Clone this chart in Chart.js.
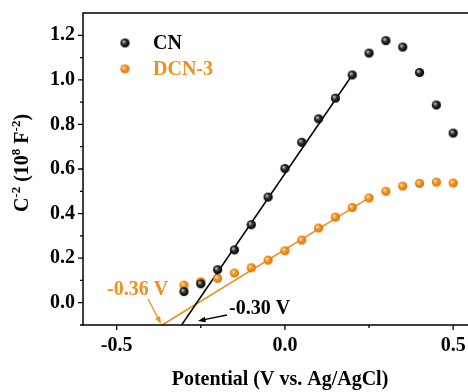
<!DOCTYPE html>
<html>
<head>
<meta charset="utf-8">
<script src="https://cdn.jsdelivr.net/npm/chart.js@4.4.1/dist/chart.umd.min.js"></script>
<style>
  html, body { margin: 0; padding: 0; overflow: hidden; background: #fff; }
  #wrap { width: 470px; height: 392px; }
</style>
</head>
<body>
<div id="wrap"><canvas id="c" width="470" height="392"></canvas></div>
<script>
// data
const potential = [-0.30, -0.25, -0.20, -0.15, -0.10, -0.05, 0.00, 0.05, 0.10, 0.15, 0.20, 0.25, 0.30, 0.35, 0.40, 0.45, 0.50];
const cnValues  = [0.050, 0.085, 0.148, 0.237, 0.350, 0.474, 0.602, 0.720, 0.825, 0.918, 1.022, 1.120, 1.176, 1.147, 1.033, 0.887, 0.761];
const dcnValues = [0.079, 0.094, 0.109, 0.133, 0.157, 0.191, 0.233, 0.281, 0.335, 0.384, 0.427, 0.470, 0.500, 0.523, 0.535, 0.541, 0.537];

// linear fits (endpoints)
const cnFitX  = [-0.307, 0.20];
const cnFitY  = [-0.10, 1.022];
const dcnFitX = [-0.365, 0.25];
const dcnFitY = [-0.10, 0.470];

const seriesNames = ['CN', 'DCN-3'];
const xTicks = [-0.5, 0.0, 0.5];
const xMinor = [-0.25, 0.25];
const yTicks = [0.0, 0.2, 0.4, 0.6, 0.8, 1.0, 1.2];
const yMinor = [-0.1, 0.1, 0.3, 0.5, 0.7, 0.9, 1.1];

const ORANGE = '#f28e1c';
const FONT = "'Liberation Serif', 'Times New Roman', serif";

// shaded ball markers
function makeBall(dark, mid, light) {
  const r = 4.6, s = 11;
  const cv = document.createElement('canvas');
  cv.width = s; cv.height = s;
  const g = cv.getContext('2d');
  const grad = g.createRadialGradient(s / 2 - 1.5, s / 2 - 1.5, 0.5, s / 2, s / 2, r);
  grad.addColorStop(0, light);
  grad.addColorStop(0.45, mid);
  grad.addColorStop(1, dark);
  g.fillStyle = grad;
  g.beginPath();
  g.arc(s / 2, s / 2, r, 0, Math.PI * 2);
  g.fill();
  return cv;
}
const blackBall = makeBall('#000000', '#2a2a2a', '#b8b8b8');
const orangeBall = makeBall('#d87400', '#f39322', '#ffd9a0');

const toXY = (xs, ys) => xs.map((x, i) => ({ x, y: ys[i] }));

function drawArrow(ctx, x1, y1, x2, y2, color) {
  // arrow from (x1,y1) to head at (x2,y2)
  const ang = Math.atan2(y2 - y1, x2 - x1);
  ctx.save();
  ctx.strokeStyle = color;
  ctx.fillStyle = color;
  ctx.lineWidth = 1.3;
  ctx.beginPath();
  ctx.moveTo(x1, y1);
  ctx.lineTo(x2 - 5 * Math.cos(ang), y2 - 5 * Math.sin(ang));
  ctx.stroke();
  ctx.beginPath();
  ctx.moveTo(x2, y2);
  ctx.lineTo(x2 - 8 * Math.cos(ang - 0.35), y2 - 8 * Math.sin(ang - 0.35));
  ctx.lineTo(x2 - 8 * Math.cos(ang + 0.35), y2 - 8 * Math.sin(ang + 0.35));
  ctx.closePath();
  ctx.fill();
  ctx.restore();
}

// draw a run of [text, isSup] parts starting at x, baseline y
function drawRich(ctx, parts, x, y, size) {
  let cx = x;
  parts.forEach(([t, sup]) => {
    ctx.font = `bold ${sup ? Math.round(size * 0.65) : size}px ${FONT}`;
    ctx.fillText(t, cx, sup ? y - size * 0.42 : y);
    cx += ctx.measureText(t).width;
  });
  return cx - x;
}
function richWidth(ctx, parts, size) {
  let w = 0;
  parts.forEach(([t, sup]) => {
    ctx.font = `bold ${sup ? Math.round(size * 0.65) : size}px ${FONT}`;
    w += ctx.measureText(t).width;
  });
  return w;
}

const framePlugin = {
  id: 'frame',
  afterDraw(chart) {
    const { ctx, chartArea: a, scales: { x, y } } = chart;
    ctx.save();
    ctx.strokeStyle = '#000';
    ctx.lineWidth = 1.5;
    // frame
    ctx.beginPath();
    ctx.moveTo(a.left, a.bottom);
    ctx.lineTo(a.left, a.top);
    ctx.lineTo(a.right, a.top);
    ctx.moveTo(a.left, a.bottom);
    ctx.lineTo(a.right, a.bottom);
    ctx.stroke();

    // outward ticks
    ctx.lineWidth = 1.3;
    ctx.beginPath();
    yTicks.forEach(v => { const p = y.getPixelForValue(v); ctx.moveTo(a.left, p); ctx.lineTo(a.left - 5, p); });
    yMinor.forEach(v => { const p = y.getPixelForValue(v); ctx.moveTo(a.left, p); ctx.lineTo(a.left - 3, p); });
    xTicks.forEach(v => { const p = x.getPixelForValue(v); ctx.moveTo(p, a.bottom); ctx.lineTo(p, a.bottom + 5); });
    xMinor.forEach(v => { const p = x.getPixelForValue(v); ctx.moveTo(p, a.bottom); ctx.lineTo(p, a.bottom + 3); });
    ctx.stroke();

    // legend
    const lx = 125, ly1 = 43, ly2 = 69;
    ctx.drawImage(blackBall, lx - 5.5, ly1 - 5.5);
    ctx.drawImage(orangeBall, lx - 5.5, ly2 - 5.5);
    ctx.font = `bold 20px ${FONT}`;
    ctx.textBaseline = 'middle';
    ctx.fillStyle = '#000';
    ctx.fillText(seriesNames[0], 153, ly1 + 1);
    ctx.fillStyle = ORANGE;
    ctx.fillText(seriesNames[1], 153, ly2 + 1);

    // intercept labels + arrows
    ctx.fillStyle = ORANGE;
    ctx.fillText('-0.36 V', 107, 290);
    drawArrow(ctx, 148, 299, x.getPixelForValue(dcnFitX[0]) - 1, a.bottom - 1, ORANGE);
    ctx.fillStyle = '#000';
    ctx.fillText('-0.30 V', 229, 309);
    drawArrow(ctx, 227, 315, 198, 321, '#000');

    // axis titles
    ctx.textBaseline = 'alphabetic';
    ctx.fillStyle = '#000';
    const xt = [['Potential (V vs. Ag/AgCl)', false]];
    const xw = richWidth(ctx, xt, 20);
    drawRich(ctx, xt, 280 - xw / 2, 385, 20);

    const yt = [['C', false], ['-2', true], [' (10', false], ['8', true], [' F', false], ['-2', true], [')', false]];
    const yw = richWidth(ctx, yt, 20);
    ctx.translate(28, 163);
    ctx.rotate(-Math.PI / 2);
    drawRich(ctx, yt, -yw / 2, 0, 20);
    ctx.restore();
  }
};

new Chart(document.getElementById('c'), {
  type: 'scatter',
  data: {
    datasets: [
      {
        label: seriesNames[0],
        data: toXY(potential, cnValues),
        pointStyle: blackBall,
        order: 1
      },
      {
        label: seriesNames[1],
        data: toXY(potential, dcnValues),
        pointStyle: orangeBall,
        order: 1
      },
      {
        label: 'CN fit',
        data: toXY(cnFitX, cnFitY),
        showLine: true,
        borderColor: '#000',
        borderWidth: 1.5,
        pointRadius: 0,
        order: 2
      },
      {
        label: 'DCN-3 fit',
        data: toXY(dcnFitX, dcnFitY),
        showLine: true,
        borderColor: ORANGE,
        borderWidth: 1.5,
        pointRadius: 0,
        order: 2
      }
    ]
  },
  options: {
    responsive: false,
    animation: false,
    devicePixelRatio: 1,
    clip: false,
    layout: { autoPadding: false, padding: { top: 13, left: 0, right: 0, bottom: 0 } },
    plugins: { legend: { display: false }, tooltip: { enabled: false } },
    scales: {
      x: {
        type: 'linear',
        min: -0.6,
        max: 0.55,
        grid: { display: false, drawTicks: false },
        border: { display: false },
        afterBuildTicks: s => { s.ticks = xTicks.map(v => ({ value: v })); },
        afterFit: s => { s.height = 67; s.paddingLeft = 0; s.paddingRight = 0; },
        ticks: {
          padding: 9,
          color: '#000',
          font: { family: FONT, size: 20, weight: 'bold' },
          callback: v => v.toFixed(1)
        }
      },
      y: {
        type: 'linear',
        min: -0.1,
        max: 1.3,
        grid: { display: false, drawTicks: false },
        border: { display: false },
        afterBuildTicks: s => { s.ticks = yTicks.map(v => ({ value: v })); },
        afterFit: s => { s.width = 83; s.paddingTop = 0; s.paddingBottom = 0; },
        ticks: {
          padding: 8,
          color: '#000',
          font: { family: FONT, size: 20, weight: 'bold' },
          callback: v => v.toFixed(1)
        }
      }
    }
  },
  plugins: [framePlugin]
});
</script>
</body>
</html>
